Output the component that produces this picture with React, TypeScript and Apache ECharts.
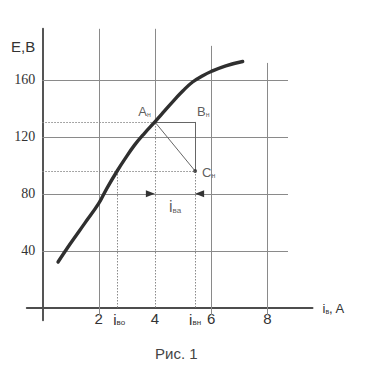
import React, { useEffect, useRef } from "react";
import * as echarts from "echarts";

// magnetisation curve E(i_в)
const curveI = [0.56, 1.0, 1.5, 2.0, 2.3, 2.66, 2.92, 3.27, 3.63, 4.0, 4.28, 4.75, 5.0, 5.34, 5.7, 6.0, 6.52, 7.12];
const curveE = [32, 45, 59, 73, 84, 96, 104, 114, 122.5, 130.5, 136.8, 147.3, 152.5, 158.6, 163, 166, 170, 173];

const xTickValues = [2, 4, 6, 8];
const yTickValues = [40, 80, 120, 160];

// construction points
const pointA = [4, 130.5];
const pointB = [5.43, 130.5];
const pointC = [5.43, 96];
const iBo = 2.66;
const arrowE = 80;
const iVaLabelAt = [4.72, 71.5];

// axis ranges and grid extents (data units)
const xMin = -0.55;
const xMax = 9.6;
const yMin = -9;
const yMax = 196;
const hGridEnd = 8.73;
const vGridTop = [196, 196, 184, 172];
const belowAxis = -5.3;

const SANS = "'Liberation Sans', Arial, sans-serif";
const SERIF = "'Liberation Serif', 'Times New Roman', serif";

export default function App() {
  const ref = useRef<HTMLDivElement>(null);

  useEffect(() => {
    document.body.style.margin = "0";
    if (!ref.current) return;
    const chart = echarts.init(ref.current, undefined, { renderer: "svg" });

    const gridW = 285.7;
    const gridH = 291.5;
    const xAxisOffset = -((0 - yMin) / (yMax - yMin)) * gridH;
    const yAxisOffset = -((0 - xMin) / (xMax - xMin)) * gridW;

    const curve = curveI.map((v, k) => [v, curveE[k]]);

    const solidGrid = [
      ...yTickValues.map((e) => [0, e, hGridEnd, e]),
      ...xTickValues.map((x, k) =>
        x === pointA[0] ? [x, pointA[1], x, vGridTop[k]] : [x, belowAxis, x, vGridTop[k]]
      ),
    ];
    const dotted = [
      [0, pointA[1], pointA[0], pointA[1]],
      [0, pointC[1], pointC[0], pointC[1]],
      [iBo, 0, iBo, pointC[1]],
      [pointA[0], 0, pointA[0], pointA[1]],
      [pointC[0], 0, pointC[0], pointC[1]],
    ];
    const construction = [
      [pointA[0], pointA[1], pointB[0], pointB[1]],
      [pointB[0], pointB[1], pointC[0], pointC[1]],
      [pointA[0], pointA[1], pointC[0], pointC[1]],
    ];
    const arrows = [
      [pointA[0], arrowE, 1],
      [pointC[0], arrowE, -1],
    ];

    const segSeries = (data: number[][], stroke: string, lineWidth: number, dash?: number[]) => ({
      type: "custom",
      coordinateSystem: "cartesian2d",
      silent: true,
      clip: false,
      encode: { x: [0, 2], y: [1, 3] },
      data,
      renderItem: (_p: any, api: any) => {
        const p1 = api.coord([api.value(0), api.value(1)]);
        const p2 = api.coord([api.value(2), api.value(3)]);
        const r = (v: number) => Math.round(v) + 0.5;
        const vert = Math.abs(p1[0] - p2[0]) < 0.5;
        const horiz = Math.abs(p1[1] - p2[1]) < 0.5;
        return {
          type: "line",
          shape: {
            x1: vert ? r(p1[0]) : p1[0],
            y1: horiz ? r(p1[1]) : p1[1],
            x2: vert ? r(p2[0]) : p2[0],
            y2: horiz ? r(p2[1]) : p2[1],
          },
          style: { stroke, lineWidth, lineDash: dash, fill: null },
        };
      },
    });

    const rich = (main: number, sub: number, lh: number) => ({
      m: { fontSize: main, fontFamily: SANS, color: "#333", lineHeight: lh, verticalAlign: "bottom" },
      s: { fontSize: sub, fontFamily: SANS, color: "#333", lineHeight: lh, verticalAlign: "bottom" },
      t: { fontSize: main, fontFamily: SANS, color: "#333", lineHeight: lh, verticalAlign: "bottom" },
      p: { fontSize: main, fontFamily: SANS, color: "#333", lineHeight: lh, verticalAlign: "bottom", padding: [0, 0, 0, 4] },
    });

    const option: any = {
      animation: false,
      backgroundColor: "#fff",
      title: {
        text: "Рис. 1",
        left: 155,
        top: 346,
        padding: 0,
        textStyle: { fontSize: 15, fontWeight: "normal", color: "#444", fontFamily: SANS },
      },
      grid: { left: 26.8, top: 28.8, width: gridW, height: gridH, containLabel: false, outerBoundsMode: "none" },
      xAxis: {
        type: "value",
        min: xMin,
        max: xMax,
        position: "bottom",
        offset: xAxisOffset,
        axisLine: { onZero: false, lineStyle: { color: "#4d4d4d", width: 2 } },
        axisTick: { show: false },
        splitLine: { show: false },
        axisLabel: {
          customValues: [2, iBo, 4, pointC[0], 6, 8],
          margin: 2,
          fontSize: 15,
          lineHeight: 17,
          fontFamily: SANS,
          color: "#333",
          formatter: (v: number) => {
            if (Math.abs(v - iBo) < 0.01) return "{p|i}{s|во}";
            if (Math.abs(v - pointC[0]) < 0.01) return "{m|i}{s|вн}";
            return String(v);
          },
          rich: rich(15, 8, 17),
        },
        name: "{m|i}{s|в}{t|, A}",
        nameLocation: "end",
        nameGap: 10,
        nameTextStyle: { align: "left", verticalAlign: "middle", rich: rich(13, 7, 15) },
      },
      yAxis: {
        type: "value",
        min: yMin,
        max: yMax,
        position: "left",
        offset: yAxisOffset,
        axisLine: { onZero: false, lineStyle: { color: "#555", width: 2 } },
        axisTick: { show: false },
        splitLine: { show: false },
        axisLabel: {
          customValues: yTickValues,
          margin: 7,
          fontSize: 14,
          fontFamily: SERIF,
          color: "#333",
        },
        name: "E,B",
        nameLocation: "end",
        nameGap: -18,
        nameTextStyle: {
          align: "right",
          verticalAlign: "middle",
          padding: [0, 7, 0, 0],
          fontSize: 15,
          fontFamily: SANS,
          color: "#333",
        },
      },
      series: [
        segSeries(solidGrid, "#8a8a8a", 1),
        segSeries(dotted, "#8a8a8a", 1, [1.5, 1.5]),
        segSeries(construction, "#666", 1),
        {
          type: "custom",
          coordinateSystem: "cartesian2d",
          silent: true,
          clip: false,
          data: arrows,
          renderItem: (_p: any, api: any) => {
            const p = api.coord([api.value(0), api.value(1)]);
            const d = api.value(2);
            const len = 9;
            const half = 3.5;
            return {
              type: "polygon",
              shape: {
                points: [
                  [p[0], p[1]],
                  [p[0] - d * len, p[1] - half],
                  [p[0] - d * len, p[1] + half],
                ],
              },
              style: { fill: "#333" },
            };
          },
        },
        {
          type: "line",
          data: curve,
          smooth: 0.4,
          symbol: "none",
          silent: true,
          lineStyle: { color: "#2f2f2f", width: 3.4, cap: "round", join: "round" },
        },
        {
          type: "scatter",
          data: [pointC],
          symbolSize: 4,
          silent: true,
          itemStyle: { color: "#333" },
        },
        {
          type: "scatter",
          symbolSize: 0,
          silent: true,
          label: { show: true, rich: rich(13, 7, 15) },
          data: [
            { value: pointA, label: { formatter: "{m|A}{s|н}", position: [-4, -11], align: "right", verticalAlign: "middle" } },
            { value: pointB, label: { formatter: "{m|B}{s|н}", position: [2, -11], align: "left", verticalAlign: "middle" } },
            { value: pointC, label: { formatter: "{m|C}{s|н}", position: [7, 1], align: "left", verticalAlign: "middle" } },
            {
              value: iVaLabelAt,
              label: { formatter: "{m|i}{s|ва}", position: [0, 0], align: "center", verticalAlign: "middle", rich: rich(16, 8, 18) },
            },
          ],
        },
      ],
    };

    chart.setOption(option);
    return () => chart.dispose();
  }, []);

  return <div ref={ref} style={{ width: 365, height: 366 }} />;
}
